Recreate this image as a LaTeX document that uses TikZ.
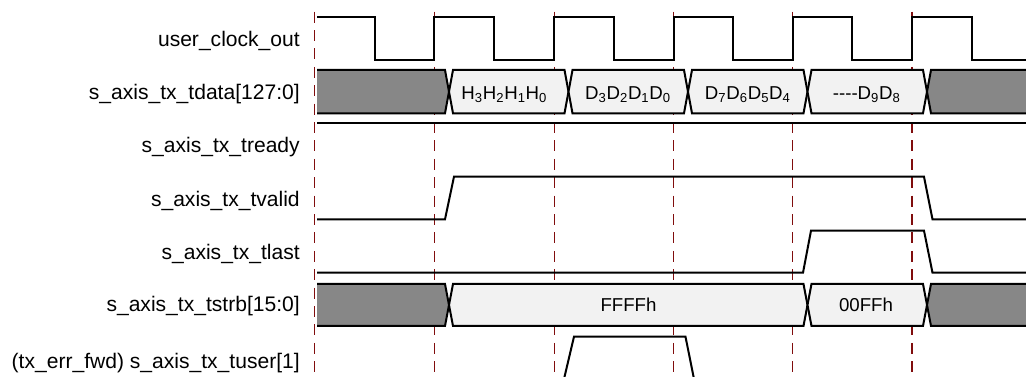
\documentclass[tikz,border=0pt]{standalone}
\usepackage{fontspec}
\setmainfont{Liberation Sans}
\usepackage{tikz}
\usetikzlibrary{calc,positioning}
\definecolor{darkred}{rgb}{0.5,0.05,0.05}
\definecolor{busgray}{gray}{0.53}
\definecolor{buslight}{gray}{0.95}

\begin{document}
\begin{tikzpicture}[x=0.75pt,y=-0.75pt,
    wave/.style={line width=1.5pt},
    marker/.style={darkred,line width=1pt,dash pattern=on 8.2pt off 5.6pt},
    signame/.style={anchor=base east,inner sep=0pt,font=\fontsize{15.8}{18}\selectfont},
    busval/.style={anchor=base,inner sep=0pt,font=\fontsize{14}{16}\selectfont}]
        \clip (0,0) rectangle (1026,377);
        % clock edge markers
        \draw[marker] (314.5,11.7) -- (314.5,377);
        \draw[marker] (434.3,11.7) -- (434.3,377);
        \draw[marker] (554.3,11.7) -- (554.3,377);
        \draw[marker] (673.7,11.7) -- (673.7,377);
        \draw[marker] (792.7,11.7) -- (792.7,377);
        \draw[marker] (912,11.7) -- (912,377);
        % signal names
        \node[signame] (clkname) at (300,46.7) {user\_clock\_out};
        \node[signame] (tdataname) at (300,100) {s\_axis\_tx\_tdata[127:0]};
        \node[signame] (treadyname) at (300,152.7) {s\_axis\_tx\_tready};
        \node[signame] (tvalidname) at (300,206.7) {s\_axis\_tx\_tvalid};
        \node[signame] (tlastname) at (300,260) {s\_axis\_tx\_tlast};
        \node[signame] (tstrbname) at (300,311.7) {s\_axis\_tx\_tstrb[15:0]};
        \node[signame] (tusername) at (300,368.3) {(tx\_err\_fwd) s\_axis\_tx\_tuser[1]};
        % clock
        \draw[wave] (317,16.7) -- (375,16.7) -- (375,60) -- (434.3,60) -- (434.3,16.7)
            -- (494.3,16.7) -- (494.3,60) -- (554.3,60) -- (554.3,16.7)
            -- (614.3,16.7) -- (614.3,60) -- (673.7,60) -- (673.7,16.7)
            -- (733.3,16.7) -- (733.3,60) -- (792.7,60) -- (792.7,16.7)
            -- (852.3,16.7) -- (852.3,60) -- (912,60) -- (912,16.7)
            -- (972,16.7) -- (972,60) -- (1030,60);
        % tdata bus
        \filldraw[wave,fill=busgray] (317,70) -- (445,70) -- (449,91.7) -- (445,113.3) -- (317,113.3);
        \filldraw[wave,fill=buslight] (453,70) -- (564.5,70) -- (568.5,91.7) -- (564.5,113.3) -- (453,113.3) -- (449,91.7) -- cycle;
        \filldraw[wave,fill=buslight] (572.5,70) -- (684,70) -- (688,91.7) -- (684,113.3) -- (572.5,113.3) -- (568.5,91.7) -- cycle;
        \filldraw[wave,fill=buslight] (692,70) -- (803.5,70) -- (807.5,91.7) -- (803.5,113.3) -- (692,113.3) -- (688,91.7) -- cycle;
        \filldraw[wave,fill=buslight] (811.5,70) -- (923,70) -- (927,91.7) -- (923,113.3) -- (811.5,113.3) -- (807.5,91.7) -- cycle;
        \filldraw[wave,fill=busgray] (1030,70) -- (931,70) -- (927,91.7) -- (931,113.3) -- (1030,113.3);
        \node[busval] (hword) at (504.3,99.5) {H\textsubscript{3}H\textsubscript{2}H\textsubscript{1}H\textsubscript{0}};
        \node[busval] (dlow) at (628,99.5) {D\textsubscript{3}D\textsubscript{2}D\textsubscript{1}D\textsubscript{0}};
        \node[busval] (dmid) at (747.8,99.5) {D\textsubscript{7}D\textsubscript{6}D\textsubscript{5}D\textsubscript{4}};
        \node[busval] (dhigh) at (866.7,99.5) {-\kern0pt-\kern0pt-\kern0pt-D\textsubscript{9}D\textsubscript{8}};
        % tready
        \draw[wave] (317,123.3) -- (1030,123.3);
        % tvalid
        \draw[wave] (317,219.3) -- (445,219.3) -- (454,176.7) -- (924,176.7) -- (932.5,219.3) -- (1030,219.3);
        % tlast
        \draw[wave] (317,272.7) -- (803,272.7) -- (811,230.7) -- (924,230.7) -- (932.5,272.7) -- (1030,272.7);
        % tstrb bus
        \filldraw[wave,fill=busgray] (317,284) -- (445,284) -- (449,305) -- (445,326) -- (317,326);
        \filldraw[wave,fill=buslight] (453,284) -- (803.5,284) -- (807.5,305) -- (803.5,326) -- (453,326) -- (449,305) -- cycle;
        \filldraw[wave,fill=buslight] (811.5,284) -- (923,284) -- (927,305) -- (923,326) -- (811.5,326) -- (807.5,305) -- cycle;
        \filldraw[wave,fill=busgray] (1030,284) -- (931,284) -- (927,305) -- (931,326) -- (1030,326);
        \node[busval] (allbytes) at (628.5,311.5) {FFFFh};
        \node[busval] (lowbytes) at (866,311.5) {00FFh};
        % tuser pulse
        \draw[wave] (564,379) -- (574,336.7) -- (685.5,336.7) -- (694,379);
\end{tikzpicture}
\end{document}
